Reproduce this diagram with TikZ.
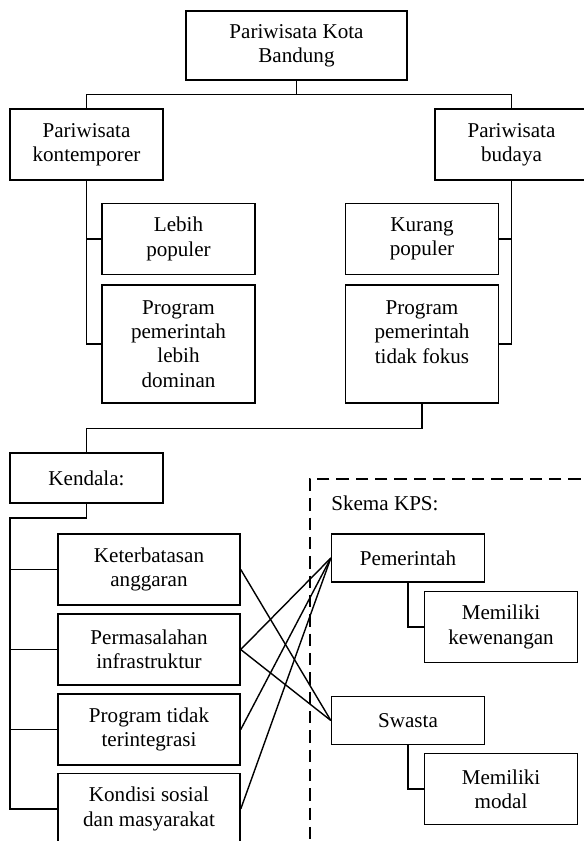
\documentclass[tikz,border=0pt]{standalone}
\usepackage{fontspec}
\setmainfont{Liberation Serif}

\begin{document}
\begin{tikzpicture}[x=0.569pt, y=-0.569pt]
                \path[use as bounding box, clip] (0,0) rectangle (584,841);
                \begin{scope}[every node/.style={draw, line width=0.8pt, align=center, inner sep=1, minimum width=87pt, minimum height=40.4pt, font=\fontsize{12}{13.8}\selectfont}]
                        \node[minimum width=125.7pt, minimum height=39.3pt] (Kota) at (296.5,45.5) {Pariwisata Kota\\Bandung};
                        \node (Kontemporer) at (86.5,144.5) {Pariwisata\\kontemporer};
                        \node (Budaya) at (511.5,144.5) {Pariwisata\\budaya};
                        \node (LebihPop) at (178.5,239) {Lebih\\populer};
                        \node[minimum height=67.1pt] (Dominan) at (178.5,344) {Program\\pemerintah\\lebih\\dominan};
                        \node (KurangPop) at (422,239) {Kurang\\populer};
                        \node[minimum height=67.1pt] (Fokus) at (422,344) {Program\\pemerintah\\tidak fokus\\\mbox{}};
                        \node[minimum height=28.5pt] (Kendala) at (86.5,478) {Kendala:};
                        \node[minimum width=103.6pt] (Anggaran) at (149,569.5) {Keterbatasan\\anggaran};
                        \node[minimum width=103.6pt] (Infra) at (149,649.5) {Permasalahan\\infrastruktur};
                        \node[minimum width=103.6pt] (Integrasi) at (149,729.5) {Program tidak\\terintegrasi};
                        \node[minimum width=103.6pt] (Sosial) at (149,809) {Kondisi sosial\\dan masyarakat};
                        \node[minimum height=27.3pt] (Pemerintah) at (408,558) {Pemerintah};
                        \node (Kewenangan) at (501,627) {Memiliki\\kewenangan};
                        \node[minimum height=27.3pt] (Swasta) at (408,720.5) {Swasta};
                        \node (Modal) at (501,789) {Memiliki\\modal};
                \end{scope}
                \node[anchor=west, inner sep=0, font=\fontsize{12}{13.8}\selectfont] (Skema) at (331,503) {Skema KPS:};
                \draw[line width=0.8pt, dash pattern=on 7pt off 4pt] (600,479) -| (310,860);
                \coordinate (KSpine) at (10,518);
                \begin{scope}[every path/.style={line width=0.8pt}]
                        \draw (Kota.south) -- ++(0,14) -| (Kontemporer.north);
                        \draw (Kota.south) -- ++(0,14) -| (Budaya.north);
                        \draw (Kontemporer.south) |- (LebihPop.west);
                        \draw (Kontemporer.south) |- (Dominan.west);
                        \draw (Budaya.south) |- (KurangPop.east);
                        \draw (Budaya.south) |- (Fokus.east);
                        \draw (Fokus.south) -- ++(0,25) -| (Kendala.north);
                        \draw (Kendala.south) |- (KSpine) |- (Sosial.west);
                        \draw (KSpine) |- (Anggaran.west);
                        \draw (KSpine) |- (Infra.west);
                        \draw (KSpine) |- (Integrasi.west);
                        \draw (Pemerintah.south) |- (Kewenangan.west);
                        \draw (Swasta.south) |- (Modal.west);
                        \draw (Anggaran.east) -- (Swasta.west);
                        \draw (Infra.east) -- (Pemerintah.west);
                        \draw (Infra.east) -- (Swasta.west);
                        \draw (Integrasi.east) -- (Pemerintah.west);
                        \draw (Sosial.east) -- (Pemerintah.west);
                \end{scope}
\end{tikzpicture}
\end{document}
